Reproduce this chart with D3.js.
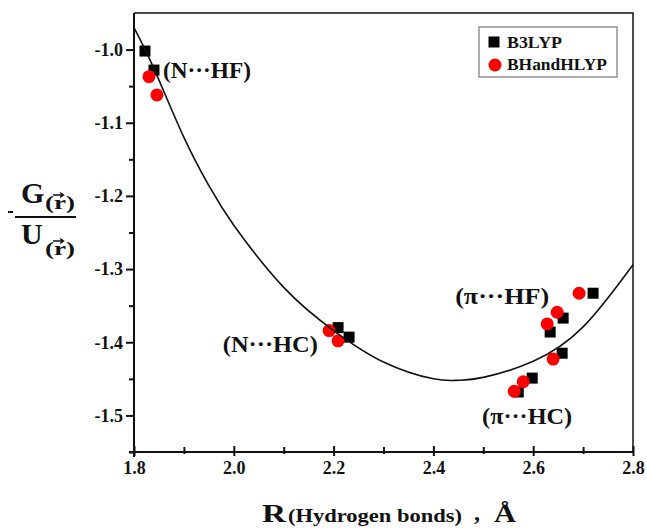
<!DOCTYPE html>
<html>
<head>
<meta charset="utf-8">
<script src="https://cdn.jsdelivr.net/npm/d3@7"></script>
<style>
  body { margin: 0; background: #fff; }
  text { font-family: "Liberation Serif", "Times New Roman", serif; font-weight: bold; fill: #111; }
</style>
</head>
<body>
<svg width="647" height="528"></svg>
<script>
// B3LYP points (squares)
const b3lypX = [1.822, 1.840, 2.209, 2.231, 2.598, 2.570, 2.720, 2.660, 2.634, 2.658];
const b3lypY = [-1.002, -1.028, -1.380, -1.393, -1.449, -1.468, -1.333, -1.367, -1.386, -1.415];
// BHandHLYP points (circles)
const bhhX = [1.830, 1.846, 2.191, 2.209, 2.580, 2.562, 2.692, 2.648, 2.628, 2.640];
const bhhY = [-1.037, -1.062, -1.384, -1.398, -1.454, -1.467, -1.333, -1.359, -1.375, -1.423];
// fitted curve
const fitX = [1.80, 1.84, 1.90, 1.95, 2.00, 2.10, 2.20, 2.30, 2.40, 2.45, 2.50, 2.60, 2.70, 2.80];
const fitY = [-0.970, -1.026, -1.120, -1.186, -1.240, -1.325, -1.384, -1.427, -1.450, -1.452, -1.448, -1.426, -1.379, -1.294];

const xTicks = [1.8, 2.0, 2.2, 2.4, 2.6, 2.8];
const xMinor = [1.9, 2.1, 2.3, 2.5, 2.7];
const yTicks = [-1.0, -1.1, -1.2, -1.3, -1.4, -1.5];
const yMinor = [-1.05, -1.15, -1.25, -1.35, -1.45, -1.55];

const seriesNames = ["B3LYP", "BHandHLYP"];

const svg = d3.select("svg");
const pL = 134, pR = 633, pT = 13, pB = 452;

const x = d3.scaleLinear([1.8, 2.8], [pL, pR]);
const y = d3.scaleLinear([-1.55, -0.95], [pB, pT]);

// frame (top and right)
svg.append("path")
  .attr("d", `M${pL},${pT}H${pR}V${pB}`)
  .attr("fill", "none").attr("stroke", "#111").attr("stroke-width", 1.5);

// y axis
const yAx = svg.append("g").attr("transform", `translate(${pL},0)`)
  .call(d3.axisLeft(y).tickValues(yTicks).tickSize(8).tickFormat(d => d.toFixed(1)));
svg.append("g").attr("transform", `translate(${pL},0)`)
  .call(d3.axisLeft(y).tickValues(yMinor).tickSize(5).tickFormat(""))
  .call(g => g.select(".domain").remove());

// x axis
const xAx = svg.append("g").attr("transform", `translate(0,${pB})`)
  .call(d3.axisBottom(x).tickValues(xTicks).tickSize(4).tickPadding(5).tickFormat(d => d.toFixed(1)));
const xMin = svg.append("g").attr("transform", `translate(0,${pB})`)
  .call(d3.axisBottom(x).tickValues(xMinor).tickSize(2).tickFormat(""))
  .call(g => g.select(".domain").remove());

svg.selectAll(".tick line").attr("stroke", "#111").attr("stroke-width", 2);
xAx.selectAll(".tick line").attr("y1", -6);
xMin.selectAll(".tick line").attr("y1", -5);
svg.selectAll(".domain").attr("stroke", "#111").attr("stroke-width", 2);
yAx.select(".domain").attr("d", `M0,${pT}V${pB + 5}`);
xAx.select(".domain").attr("d", `M${pL - 5},0H${pR}`);

svg.selectAll(".tick text")
  .style("font-family", "'Liberation Serif', serif")
  .style("font-weight", "bold")
  .style("font-size", "18px")
  .attr("fill", "#111");
yAx.selectAll(".tick text").attr("x", -11);

// points
const b3 = b3lypX.map((v, i) => ({ x: v, y: b3lypY[i] }));
const bh = bhhX.map((v, i) => ({ x: v, y: bhhY[i] }));

svg.append("g").selectAll("rect").data(b3).join("rect")
  .attr("x", d => x(d.x) - 5.5).attr("y", d => y(d.y) - 5.5)
  .attr("width", 11).attr("height", 11).attr("fill", "#000");

svg.append("g").selectAll("circle").data(bh).join("circle")
  .attr("cx", d => x(d.x)).attr("cy", d => y(d.y)).attr("r", 6.5)
  .attr("fill", "#ff0000");

// fitted curve
const fit = fitX.map((v, i) => [v, fitY[i]]);
svg.append("path")
  .attr("d", d3.line().x(d => x(d[0])).y(d => y(d[1])).curve(d3.curveNatural)(fit))
  .attr("fill", "none").attr("stroke", "#111").attr("stroke-width", 1.6);

// annotations
const notes = [
  { t: "(N\u00B7\u00B7\u00B7HF)", px: 1.858, py: -1.039, anchor: "start", w: 88 },
  { t: "(N\u00B7\u00B7\u00B7HC)", px: 1.978, py: -1.413, anchor: "start", w: 95 },
  { t: "(\u03C0\u00B7\u00B7\u00B7HF)", px: 2.632, py: -1.348, anchor: "end", w: 94 },
  { t: "(\u03C0\u00B7\u00B7\u00B7HC)", px: 2.678, py: -1.512, anchor: "end", w: 90 }
];
svg.append("g").selectAll("text").data(notes).join("text")
  .attr("x", d => d.anchor === "start" ? x(d.px) : x(d.px) - d.w)
  .attr("y", d => y(d.py))
  .attr("font-size", 23)
  .attr("textLength", d => d.w)
  .attr("lengthAdjust", "spacingAndGlyphs")
  .text(d => d.t);

// legend
const lg = svg.append("g");
lg.append("rect").attr("x", 479).attr("y", 27).attr("width", 138).attr("height", 50)
  .attr("fill", "#fff").attr("stroke", "#777").attr("stroke-width", 1.2);
lg.append("rect").attr("x", 488.5).attr("y", 36.5).attr("width", 11).attr("height", 11).attr("fill", "#000");
lg.append("circle").attr("cx", 495).attr("cy", 65).attr("r", 6.5).attr("fill", "#ff0000");
lg.selectAll("text.lg").data(seriesNames).join("text")
  .attr("x", 507).attr("y", (d, i) => 48 + i * 22)
  .attr("font-size", 16)
  .attr("textLength", (d, i) => i ? 100 : 55)
  .attr("lengthAdjust", "spacingAndGlyphs")
  .text(d => d);

// y label: - G(r)/U(r), with vector arrows drawn over the r
const yl = svg.append("g");
yl.append("rect").attr("x", 8).attr("y", 211).attr("width", 5).attr("height", 2).attr("fill", "#111");
yl.append("rect").attr("x", 15).attr("y", 216).attr("width", 61).attr("height", 2).attr("fill", "#111");
yl.append("text").attr("x", 21).attr("y", 203).attr("font-size", 30).text("G");
yl.append("text").attr("x", 21).attr("y", 244).attr("font-size", 30).text("U");
[209, 255].forEach(b => {
  yl.append("text").attr("x", 45).attr("y", b).attr("font-size", 18)
    .attr("textLength", 30).attr("lengthAdjust", "spacingAndGlyphs").text("(r)");
  const ay = b - 14;
  yl.append("path")
    .attr("d", `M53,${ay}H63M60,${ay - 2.5}L63.5,${ay}L60,${ay + 2.5}`)
    .attr("fill", "none").attr("stroke", "#111").attr("stroke-width", 1.4);
});

// x label
const xl = svg.append("g");
xl.append("text").attr("x", 262).attr("y", 522).attr("font-size", 25)
  .attr("textLength", 24).attr("lengthAdjust", "spacingAndGlyphs").text("R");
xl.append("text").attr("x", 288).attr("y", 522).attr("font-size", 18)
  .attr("textLength", 174).attr("lengthAdjust", "spacingAndGlyphs").text("(Hydrogen bonds)");
xl.append("text").attr("x", 474).attr("y", 520).attr("font-size", 24).text(",");
xl.append("text").attr("x", 494).attr("y", 522).attr("font-size", 25)
  .attr("textLength", 22).attr("lengthAdjust", "spacingAndGlyphs").text("\u00C5");
</script>
</body>
</html>
